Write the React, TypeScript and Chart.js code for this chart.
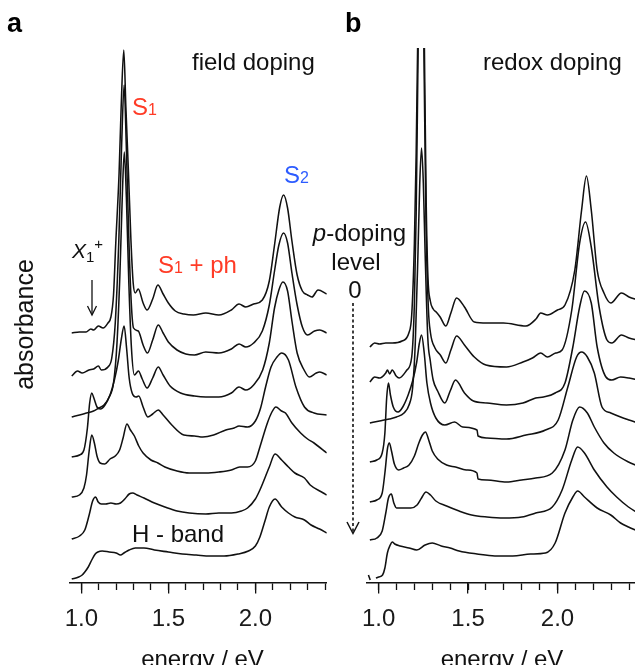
import React, { useEffect, useRef } from 'react';
import { Chart, registerables } from 'chart.js';

Chart.register(...registerables);

const FONT = '"Liberation Sans", Arial, Helvetica, sans-serif';

// ---- axis settings ----
const energyMin = 0.935;
const fieldEnergyMax = 2.41;
const redoxEnergyMax = 2.448;
const absorbanceMax = 5.35;
const labeledTicks = [1.0, 1.5, 2.0];

// ---- panel a: field doping (energy eV, absorbance with offset), top = undoped ----
const fieldLevel0: [number, number][] = [
  [0.945, 2.50], [0.989, 2.51], [1.027, 2.51], [1.055, 2.54], [1.071, 2.53], [1.098, 2.57], [1.125, 2.55],
  [1.153, 2.60], [1.170, 2.66], [1.185, 2.88], [1.198, 3.40], [1.217, 4.10], [1.229, 4.76], [1.244, 5.33],
  [1.256, 4.76], [1.271, 4.10], [1.285, 3.43], [1.298, 3.00], [1.310, 2.90], [1.327, 2.94], [1.355, 2.80],
  [1.378, 2.73], [1.410, 2.84], [1.440, 2.98], [1.470, 2.89], [1.500, 2.80], [1.540, 2.72], [1.590, 2.69],
  [1.644, 2.68], [1.715, 2.70], [1.790, 2.68], [1.862, 2.73], [1.906, 2.79], [1.945, 2.76], [1.990, 2.79],
  [2.040, 2.83], [2.080, 3.02], [2.110, 3.38], [2.140, 3.76], [2.162, 3.88], [2.185, 3.75], [2.210, 3.42],
  [2.240, 3.08], [2.270, 2.92], [2.300, 2.88], [2.325, 2.86], [2.360, 2.93], [2.410, 2.89],
];
const fieldLevel1: [number, number][] = [
  [0.945, 2.07], [0.978, 2.12], [1.005, 2.10], [1.044, 2.13], [1.071, 2.14], [1.098, 2.17], [1.115, 2.13],
  [1.153, 2.16], [1.175, 2.25], [1.195, 2.60], [1.215, 3.40], [1.232, 4.40], [1.246, 4.98], [1.258, 4.40],
  [1.272, 3.50], [1.287, 2.80], [1.300, 2.55], [1.327, 2.52], [1.355, 2.38], [1.380, 2.30], [1.410, 2.43],
  [1.442, 2.58], [1.470, 2.50], [1.500, 2.41], [1.550, 2.33], [1.600, 2.29], [1.650, 2.28], [1.715, 2.31],
  [1.790, 2.30], [1.862, 2.34], [1.906, 2.39], [1.945, 2.36], [1.990, 2.40], [2.040, 2.52], [2.080, 2.78],
  [2.110, 3.12], [2.135, 3.38], [2.162, 3.50], [2.185, 3.40], [2.210, 3.10], [2.240, 2.78], [2.270, 2.56],
  [2.300, 2.48], [2.340, 2.52], [2.370, 2.53], [2.410, 2.50],
];
const fieldLevel2: [number, number][] = [
  [0.945, 1.66], [0.990, 1.68], [1.030, 1.70], [1.070, 1.72], [1.100, 1.75], [1.130, 1.78], [1.160, 1.86],
  [1.185, 2.00], [1.205, 2.40], [1.222, 3.10], [1.236, 3.90], [1.247, 4.31], [1.259, 3.85], [1.273, 3.00],
  [1.288, 2.35], [1.305, 2.08], [1.328, 2.12], [1.350, 2.04], [1.378, 1.95], [1.410, 2.05], [1.442, 2.16],
  [1.470, 2.08], [1.510, 1.97], [1.570, 1.90], [1.650, 1.87], [1.715, 1.86], [1.790, 1.86], [1.862, 1.90],
  [1.906, 1.96], [1.945, 1.93], [1.990, 1.98], [2.042, 2.13], [2.080, 2.40], [2.110, 2.75], [2.135, 2.93],
  [2.158, 3.01], [2.185, 2.92], [2.210, 2.62], [2.240, 2.30], [2.280, 2.13], [2.310, 2.06], [2.350, 2.10],
  [2.370, 2.11], [2.410, 2.08],
];
const fieldLevel3: [number, number][] = [
  [0.945, 1.26], [0.990, 1.28], [1.015, 1.33], [1.035, 1.55], [1.048, 1.80], [1.060, 1.90], [1.072, 1.85],
  [1.090, 1.76], [1.110, 1.74], [1.136, 1.78], [1.165, 1.88], [1.190, 2.03], [1.212, 2.22], [1.230, 2.44],
  [1.246, 2.57], [1.260, 2.35], [1.275, 2.05], [1.292, 1.90], [1.315, 1.86], [1.330, 1.87], [1.355, 1.76],
  [1.382, 1.66], [1.410, 1.69], [1.442, 1.73], [1.470, 1.68], [1.520, 1.58], [1.589, 1.48], [1.650, 1.47],
  [1.698, 1.46], [1.760, 1.48], [1.830, 1.53], [1.878, 1.55], [1.906, 1.57], [1.955, 1.56], [2.000, 1.62],
  [2.030, 1.75], [2.060, 1.97], [2.090, 2.16], [2.124, 2.26], [2.151, 2.30], [2.190, 2.23], [2.233, 1.96],
  [2.282, 1.76], [2.337, 1.70], [2.410, 1.68],
];
const fieldLevel4: [number, number][] = [
  [0.945, 0.86], [0.989, 0.88], [1.015, 0.95], [1.030, 1.08], [1.045, 1.32], [1.060, 1.48], [1.075, 1.40],
  [1.090, 1.27], [1.108, 1.20], [1.135, 1.19], [1.165, 1.24], [1.195, 1.27], [1.220, 1.33], [1.240, 1.45],
  [1.262, 1.59], [1.282, 1.53], [1.305, 1.47], [1.330, 1.37], [1.355, 1.30], [1.400, 1.23], [1.440, 1.20],
  [1.480, 1.16], [1.550, 1.12], [1.620, 1.10], [1.715, 1.10], [1.790, 1.11], [1.862, 1.13], [1.910, 1.16],
  [1.955, 1.16], [2.000, 1.22], [2.026, 1.36], [2.069, 1.60], [2.095, 1.71], [2.118, 1.76], [2.150, 1.72],
  [2.173, 1.70], [2.210, 1.60], [2.260, 1.50], [2.300, 1.44], [2.337, 1.40], [2.410, 1.30],
];
const fieldLevel5: [number, number][] = [
  [0.945, 0.44], [0.990, 0.47], [1.020, 0.53], [1.045, 0.68], [1.065, 0.82], [1.082, 0.86], [1.097, 0.81],
  [1.115, 0.79], [1.140, 0.79], [1.170, 0.80], [1.200, 0.79], [1.225, 0.80], [1.250, 0.84], [1.275, 0.89],
  [1.295, 0.90], [1.320, 0.88], [1.360, 0.85], [1.420, 0.80], [1.480, 0.76], [1.550, 0.72], [1.620, 0.70],
  [1.715, 0.69], [1.790, 0.70], [1.862, 0.70], [1.920, 0.72], [1.955, 0.75], [2.000, 0.84], [2.026, 0.93],
  [2.080, 1.16], [2.113, 1.29], [2.151, 1.23], [2.190, 1.16], [2.227, 1.10], [2.282, 1.05], [2.315, 0.98],
  [2.390, 0.90], [2.410, 0.88],
];
const fieldLevel6: [number, number][] = [
  [0.945, 0.04], [0.985, 0.06], [1.005, 0.08], [1.020, 0.11], [1.040, 0.16], [1.060, 0.23], [1.080, 0.29],
  [1.095, 0.31], [1.120, 0.32], [1.160, 0.31], [1.200, 0.30], [1.225, 0.28], [1.245, 0.30], [1.275, 0.33],
  [1.310, 0.35], [1.360, 0.35], [1.420, 0.33], [1.500, 0.31], [1.580, 0.29], [1.660, 0.28], [1.740, 0.27],
  [1.820, 0.27], [1.900, 0.29], [1.960, 0.32], [2.000, 0.37], [2.026, 0.46], [2.055, 0.62], [2.080, 0.76],
  [2.113, 0.84], [2.151, 0.76], [2.190, 0.70], [2.227, 0.66], [2.282, 0.63], [2.320, 0.58], [2.369, 0.54],
  [2.410, 0.50],
];

// ---- panel b: redox doping ----
const redoxLevel0: [number, number][] = [
  [0.951, 2.36], [0.978, 2.40], [1.005, 2.39], [1.040, 2.40], [1.076, 2.40], [1.131, 2.42], [1.169, 2.50],
  [1.185, 2.68], [1.200, 3.40], [1.210, 4.30], [1.218, 5.35], [1.228, 7.00], [1.237, 8.00], [1.246, 7.00],
  [1.256, 5.35], [1.266, 3.80], [1.276, 3.05], [1.289, 2.82], [1.305, 2.74], [1.322, 2.71], [1.344, 2.66],
  [1.376, 2.57], [1.404, 2.70], [1.436, 2.85], [1.480, 2.76], [1.535, 2.61], [1.606, 2.60], [1.698, 2.60],
  [1.824, 2.57], [1.880, 2.64], [1.906, 2.70], [1.944, 2.68], [2.000, 2.73], [2.042, 2.78], [2.097, 3.13],
  [2.135, 3.73], [2.162, 4.07], [2.189, 3.73], [2.222, 3.13], [2.260, 2.90], [2.298, 2.80], [2.358, 2.90],
  [2.400, 2.86], [2.450, 2.83],
];
const redoxLevel1: [number, number][] = [
  [0.951, 2.01], [0.978, 2.06], [1.005, 2.05], [1.040, 2.10], [1.049, 2.13], [1.062, 2.09], [1.076, 2.13],
  [1.098, 2.07], [1.115, 2.05], [1.158, 2.13], [1.185, 2.26], [1.200, 2.80], [1.210, 3.70], [1.220, 5.20],
  [1.228, 6.40], [1.237, 7.20], [1.246, 6.40], [1.254, 5.20], [1.265, 3.60], [1.278, 2.75], [1.290, 2.50],
  [1.315, 2.35], [1.345, 2.28], [1.376, 2.20], [1.404, 2.33], [1.436, 2.47], [1.480, 2.38], [1.535, 2.26],
  [1.600, 2.18], [1.715, 2.16], [1.807, 2.21], [1.860, 2.25], [1.906, 2.30], [1.944, 2.26], [1.990, 2.30],
  [2.026, 2.33], [2.080, 2.73], [2.124, 3.40], [2.157, 3.61], [2.189, 3.36], [2.233, 2.76], [2.277, 2.43],
  [2.304, 2.40], [2.358, 2.48], [2.400, 2.45], [2.450, 2.43],
];
const redoxLevel2: [number, number][] = [
  [0.951, 1.60], [1.005, 1.62], [1.060, 1.64], [1.100, 1.66], [1.142, 1.70], [1.170, 1.78], [1.190, 1.95],
  [1.205, 2.40], [1.220, 3.30], [1.230, 4.00], [1.240, 4.35], [1.250, 4.00], [1.260, 3.30], [1.275, 2.45],
  [1.289, 2.22], [1.305, 2.03], [1.330, 1.92], [1.370, 1.80], [1.400, 1.92], [1.430, 2.03], [1.480, 1.90],
  [1.530, 1.82], [1.606, 1.80], [1.715, 1.78], [1.807, 1.80], [1.878, 1.85], [1.922, 1.86], [1.987, 1.90],
  [2.042, 2.00], [2.086, 2.36], [2.124, 2.76], [2.151, 2.92], [2.189, 2.80], [2.222, 2.36], [2.271, 2.06],
  [2.304, 2.03], [2.353, 2.06], [2.400, 2.05], [2.450, 2.03],
];
const redoxLevel3: [number, number][] = [
  [0.951, 1.21], [0.990, 1.23], [1.020, 1.30], [1.035, 1.50], [1.045, 1.85], [1.055, 2.00], [1.066, 1.88],
  [1.082, 1.76], [1.109, 1.71], [1.135, 1.76], [1.165, 1.88], [1.190, 2.02], [1.213, 2.21], [1.228, 2.40],
  [1.240, 2.48], [1.255, 2.30], [1.270, 2.00], [1.290, 1.80], [1.320, 1.65], [1.370, 1.58], [1.425, 1.61],
  [1.470, 1.56], [1.550, 1.53], [1.556, 1.47], [1.606, 1.45], [1.715, 1.44], [1.824, 1.48], [1.933, 1.53],
  [2.004, 1.63], [2.058, 1.96], [2.107, 2.26], [2.135, 2.31], [2.167, 2.26], [2.206, 2.10], [2.249, 1.76],
  [2.298, 1.70], [2.353, 1.66], [2.400, 1.63], [2.450, 1.60],
];
const redoxLevel4: [number, number][] = [
  [0.951, 0.81], [0.990, 0.83], [1.020, 0.90], [1.035, 1.10], [1.050, 1.35], [1.060, 1.40], [1.072, 1.32],
  [1.088, 1.19], [1.112, 1.13], [1.140, 1.15], [1.170, 1.18], [1.200, 1.27], [1.225, 1.40], [1.245, 1.48],
  [1.262, 1.51], [1.280, 1.43], [1.300, 1.32], [1.330, 1.24], [1.380, 1.18], [1.430, 1.16], [1.490, 1.13],
  [1.550, 1.10], [1.556, 1.04], [1.606, 1.03], [1.715, 1.01], [1.800, 1.03], [1.878, 1.05], [1.971, 1.10],
  [2.042, 1.33], [2.086, 1.63], [2.124, 1.76], [2.167, 1.70], [2.206, 1.56], [2.260, 1.40], [2.315, 1.30],
  [2.397, 1.21], [2.450, 1.17],
];
const redoxLevel5: [number, number][] = [
  [0.951, 0.43], [0.990, 0.45], [1.020, 0.52], [1.040, 0.70], [1.055, 0.85], [1.071, 0.89], [1.085, 0.80],
  [1.100, 0.75], [1.140, 0.75], [1.180, 0.75], [1.215, 0.78], [1.240, 0.85], [1.265, 0.91], [1.290, 0.88],
  [1.320, 0.82], [1.380, 0.77], [1.450, 0.72], [1.520, 0.68], [1.606, 0.66], [1.700, 0.65], [1.800, 0.66],
  [1.878, 0.70], [1.971, 0.76], [2.026, 0.93], [2.080, 1.23], [2.113, 1.36], [2.151, 1.30], [2.206, 1.13],
  [2.277, 0.96], [2.331, 0.86], [2.397, 0.76], [2.450, 0.70],
];
const redoxLevel6: [number, number | null][] = [
  [0.943, 0.08], [0.953, 0.03], [0.965, null], [0.985, 0.05], [1.000, 0.06], [1.022, 0.08], [1.035, 0.15],
  [1.049, 0.30], [1.065, 0.38], [1.076, 0.41], [1.090, 0.39], [1.120, 0.37], [1.170, 0.35], [1.213, 0.33],
  [1.260, 0.38], [1.300, 0.40], [1.350, 0.37], [1.400, 0.35], [1.450, 0.32], [1.550, 0.29], [1.650, 0.27],
  [1.750, 0.27], [1.850, 0.29], [1.933, 0.30], [1.987, 0.40], [2.042, 0.70], [2.086, 0.86], [2.113, 0.92],
  [2.151, 0.86], [2.222, 0.75], [2.298, 0.68], [2.353, 0.60], [2.397, 0.56], [2.450, 0.52],
];

const fieldSpectra = [fieldLevel0, fieldLevel1, fieldLevel2, fieldLevel3, fieldLevel4, fieldLevel5, fieldLevel6];
const redoxSpectra = [redoxLevel0, redoxLevel1, redoxLevel2, redoxLevel3, redoxLevel4, redoxLevel5, redoxLevel6];

const CANVAS_H = 690;
const AXIS_Y = 583;
const PLOT_TOP = 48;

const majorTickPlugin = {
  id: 'majorTicks',
  afterDraw(chart: any) {
    const s = chart.scales.x;
    const ctx = chart.ctx;
    const w = 1.3;
    ctx.save();
    ctx.strokeStyle = '#111';
    ctx.lineWidth = w;
    for (const v of labeledTicks) {
      const p = Math.round(s.getPixelForValue(v) - w / 2) + w / 2;
      ctx.beginPath();
      ctx.moveTo(p, s.top);
      ctx.lineTo(p, s.top + 10.5);
      ctx.stroke();
    }
    ctx.restore();
  },
};

function SpectraPanel(props: { spectra: any[]; xMax: number; left: number; width: number; padLeft: number }) {
  const ref = useRef<HTMLCanvasElement | null>(null);
  useEffect(() => {
    const canvas = ref.current;
    if (!canvas) return;
    const chart = new Chart(canvas, {
      type: 'line',
      data: {
        datasets: props.spectra.map((s: any[]) => ({
          data: s.map(([x, y]) => ({ x, y })),
          borderColor: '#111',
          borderWidth: 1.55,
          pointRadius: 0,
          fill: false,
          spanGaps: false,
          cubicInterpolationMode: 'monotone' as const,
        })),
      },
      options: {
        animation: false,
        responsive: false,
        maintainAspectRatio: false,
        events: [],
        layout: { padding: { left: props.padLeft, right: 0, top: PLOT_TOP, bottom: 0 } },
        plugins: { legend: { display: false }, tooltip: { enabled: false } },
        scales: {
          x: {
            type: 'linear',
            min: energyMin,
            max: props.xMax,
            afterFit: (scale: any) => {
              scale.height = CANVAS_H - AXIS_Y;
            },
            grid: { display: true, drawOnChartArea: false, drawTicks: true, tickLength: 7, tickColor: '#111', tickWidth: 1.3 },
            border: { display: true, color: '#111', width: 1.4 },
            ticks: {
              stepSize: 0.1,
              includeBounds: false,
              autoSkip: false,
              maxRotation: 0,
              padding: 15,
              color: '#1a1a1a',
              font: { family: FONT, size: 24 },
              callback: (v: any) => {
                const n = Number(v);
                return labeledTicks.some((t) => Math.abs(t - n) < 1e-6) ? n.toFixed(1) : '';
              },
            },
          },
          y: { display: false, min: 0, max: absorbanceMax },
        },
      },
      plugins: [majorTickPlugin],
    } as any);
    return () => chart.destroy();
  }, []);
  return (
    <canvas
      ref={ref}
      width={props.width}
      height={CANVAS_H}
      style={{ position: 'absolute', left: props.left, top: 0, width: props.width, height: CANVAS_H }}
    />
  );
}

const BASE = 0.8465;
function T(props: { x: number; base: number; size?: number; children: any; style?: any; center?: boolean }) {
  const size = props.size ?? 24;
  const top = props.base - BASE * size;
  const style: any = {
    position: 'absolute',
    top,
    fontFamily: FONT,
    fontSize: size,
    lineHeight: 1,
    whiteSpace: 'nowrap',
    color: '#111',
    ...(props.center ? { left: props.x - 150, width: 300, textAlign: 'center' } : { left: props.x }),
    ...props.style,
  };
  return <div style={style}>{props.children}</div>;
}

const RED = '#ff3b26';
const BLUE = '#2d5cff';

export default function App() {
  return (
    <div style={{ position: 'fixed', left: 0, top: 0, width: 635, height: 665, overflow: 'hidden', background: '#fff' }}>
      <SpectraPanel spectra={fieldSpectra} xMax={fieldEnergyMax} left={0} width={340} padLeft={70} />
      <SpectraPanel spectra={redoxSpectra} xMax={redoxEnergyMax} left={345} width={299} padLeft={22} />

      <T x={7} base={33} size={27} style={{ fontWeight: 'bold', color: '#000' }}>a</T>
      <T x={345} base={33} size={27} style={{ fontWeight: 'bold', color: '#000' }}>b</T>
      <T x={192} base={70}>field doping</T>
      <T x={483} base={70}>redox doping</T>

      <T x={132} base={115} style={{ color: RED }}>
        S<span style={{ fontSize: 16 }}>1</span>
      </T>
      <T x={284} base={183} style={{ color: BLUE }}>
        S<span style={{ fontSize: 16 }}>2</span>
      </T>
      <T x={158} base={273} style={{ color: RED }}>
        S<span style={{ fontSize: 16 }}>1</span> + ph
      </T>
      <T x={72} base={258} size={21}>
        <span style={{ fontStyle: 'italic' }}>X</span>
        <span style={{ fontSize: 15, position: 'relative', top: 4 }}>1</span>
        <span style={{ fontSize: 15, position: 'relative', top: -9.5 }}>+</span>
      </T>
      <T x={359.5} base={241} center>
        <span style={{ fontStyle: 'italic' }}>p</span>-doping
      </T>
      <T x={356} base={270} center>level</T>
      <T x={355} base={298} center>0</T>
      <T x={132} base={542}>H - band</T>

      <T x={202.5} base={667} center>energy / eV</T>
      <T x={502} base={667} center>energy / eV</T>
      <div
        style={{
          position: 'absolute',
          left: 24.3 - 100,
          top: 324.5 - 12.5,
          width: 200,
          height: 25,
          fontFamily: FONT,
          fontSize: 25,
          lineHeight: 1,
          textAlign: 'center',
          color: '#111',
          transform: 'rotate(-90deg)',
          whiteSpace: 'nowrap',
        }}
      >
        absorbance
      </div>

      <svg width={635} height={665} style={{ position: 'absolute', left: 0, top: 0, pointerEvents: 'none' }}>
        <line x1={92} y1={280} x2={92} y2={314.5} stroke="#111" strokeWidth={1.3} />
        <polyline points="87.5,306 92,315 96.5,306" fill="none" stroke="#111" strokeWidth={1.3} />
        <line x1={353} y1={303} x2={353} y2={532} stroke="#111" strokeWidth={1.6} strokeDasharray="3 2.5" />
        <polyline points="347,522 353,533.5 359,522" fill="none" stroke="#111" strokeWidth={1.5} />
      </svg>
    </div>
  );
}
